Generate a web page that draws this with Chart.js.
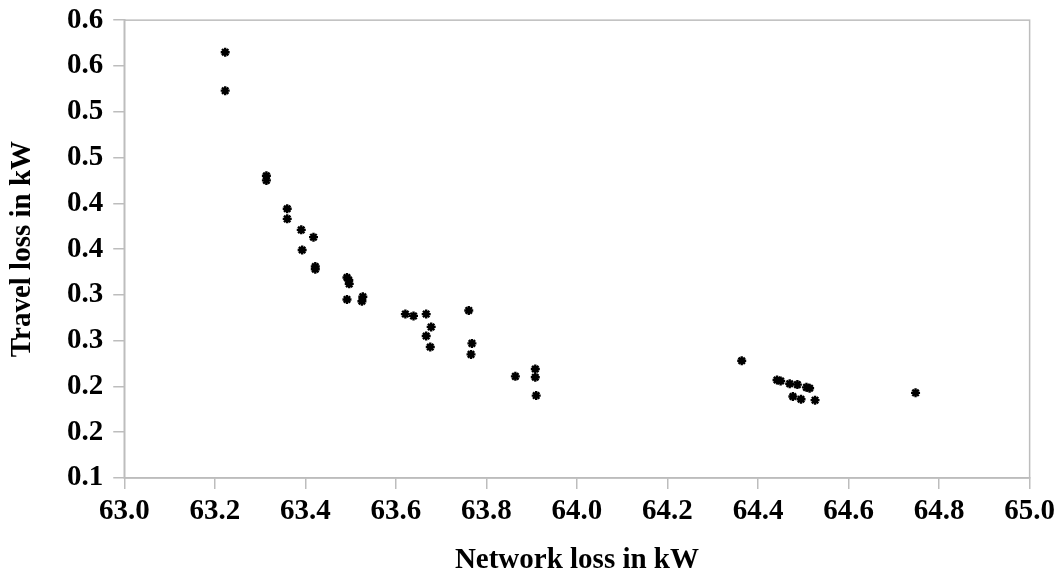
<!DOCTYPE html>
<html>
<head>
<meta charset="utf-8">
<script src="https://cdn.jsdelivr.net/npm/chart.js@4.4.0/dist/chart.umd.min.js"></script>
<style>
  html, body { margin: 0; padding: 0; background: #fff; }
  #wrap { width: 1063px; height: 576px; }
</style>
</head>
<body>
<div id="wrap"><canvas id="chart"></canvas></div>
<script>
// network loss (kW) and travel loss (kW) per solution
const networkLoss = [
  63.223, 63.223, 63.314, 63.314, 63.36, 63.36, 63.391, 63.418, 63.393, 63.422, 63.422,
  63.492, 63.496, 63.497, 63.492, 63.527, 63.525,
  63.621, 63.639, 63.667, 63.678, 63.667, 63.676,
  63.761, 63.768, 63.766, 63.864, 63.908, 63.908, 63.910,
  64.364, 64.442, 64.450, 64.470, 64.487, 64.507, 64.514, 64.477, 64.495, 64.526, 64.748
];
const travelLoss = [
  0.565, 0.523, 0.430, 0.425, 0.394, 0.383, 0.371, 0.363, 0.349, 0.331, 0.328,
  0.319, 0.316, 0.312, 0.295, 0.298, 0.293,
  0.279, 0.277, 0.279, 0.265, 0.255, 0.243,
  0.283, 0.247, 0.235, 0.211, 0.219, 0.210, 0.190,
  0.228, 0.207, 0.206, 0.203, 0.202, 0.199, 0.198, 0.189, 0.186, 0.185, 0.193
];
const xTickLabels = ['63.0', '63.2', '63.4', '63.6', '63.8', '64.0', '64.2', '64.4', '64.6', '64.8', '65.0'];
const yTickLabels = ['0.1', '0.2', '0.2', '0.3', '0.3', '0.4', '0.4', '0.5', '0.5', '0.6', '0.6'];

const points = networkLoss.map((x, i) => ({ x: x, y: travelLoss[i] }));

const axisColor = '#bdbdbd';
const fontFamily = '"Liberation Serif", "Times New Roman", serif';
const labelFont = { family: fontFamily, size: 29, weight: 'bold', lineHeight: 1.0 };

// frame around the plot area (top and right edges)
const frame = {
  id: 'frame',
  afterDatasetsDraw(chart) {
    const { ctx, chartArea } = chart;
    ctx.save();
    ctx.strokeStyle = axisColor;
    ctx.lineWidth = 1.5;
    ctx.strokeRect(chartArea.left, chartArea.top, chartArea.right - chartArea.left, chartArea.bottom - chartArea.top);
    ctx.restore();
  }
};

new Chart(document.getElementById('chart'), {
  type: 'scatter',
  data: {
    datasets: [{
      data: points,
      pointStyle: 'star',
      pointRadius: 4.5,
      borderWidth: 2.4,
      borderColor: '#000',
      backgroundColor: '#000'
    }]
  },
  options: {
    responsive: true,
    maintainAspectRatio: false,
    animation: false,
    layout: { padding: { top: 0, right: 32, bottom: 1, left: 8 } },
    plugins: { legend: { display: false }, tooltip: { enabled: false } },
    scales: {
      x: {
        type: 'linear',
        min: 63.0,
        max: 65.0,
        ticks: {
          stepSize: 0.2,
          color: '#000',
          padding: 8,
          maxRotation: 0,
          font: labelFont,
          callback: (v, i) => xTickLabels[i]
        },
        grid: { drawOnChartArea: false, drawTicks: true, tickLength: 11, color: axisColor, lineWidth: 1.5 },
        border: { color: axisColor, width: 1.5 },
        title: {
          display: true,
          text: 'Network loss in kW',
          color: '#000',
          padding: { top: 12, bottom: 0 },
          font: labelFont
        }
      },
      y: {
        type: 'linear',
        min: 0.1,
        max: 0.6,
        ticks: {
          stepSize: 0.05,
          color: '#000',
          padding: 10,
          font: { family: fontFamily, size: 29, weight: 'bold', lineHeight: 0.7 },
          callback: (v, i) => yTickLabels[i]
        },
        grid: { drawOnChartArea: false, drawTicks: true, tickLength: 11, color: axisColor, lineWidth: 1.5 },
        border: { color: axisColor, width: 1.5 },
        title: {
          display: true,
          text: 'Travel loss in kW',
          color: '#000',
          padding: { top: 0, bottom: 20 },
          font: labelFont
        }
      }
    }
  },
  plugins: [frame]
});
</script>
</body>
</html>
